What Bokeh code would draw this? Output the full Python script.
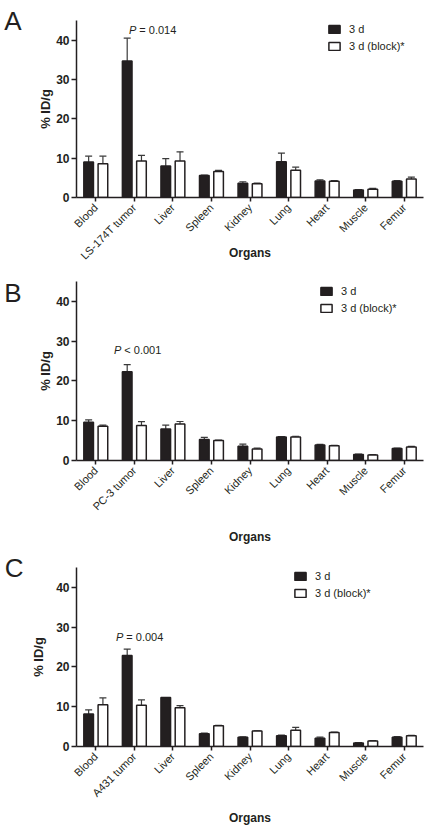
import math
from bokeh.plotting import figure
from bokeh.models import (ColumnDataSource, Range1d, Whisker, TeeHead, FixedTicker,
                          LinearAxis)
from bokeh.transform import dodge
from bokeh.layouts import column
from bokeh.core.properties import value
from bokeh.embed import file_html
from bokeh.resources import INLINE

FONT = "Liberation Sans"
INK = "#231f20"

# ---------------- data ----------------
organs_A = ["Blood", "LS-174T tumor", "Liver", "Spleen", "Kidney", "Lung", "Heart", "Muscle", "Femur"]
A_3d = [9.0, 34.7, 8.0, 5.6, 3.6, 9.1, 4.2, 1.9, 4.15]
A_3d_err = [1.5, 5.8, 1.9, 0.1, 0.4, 2.2, 0.3, 0.1, 0.15]
A_block = [8.6, 9.3, 9.3, 6.6, 3.5, 6.9, 4.15, 2.1, 4.7]
A_block_err = [1.9, 1.4, 2.3, 0.3, 0.15, 0.8, 0.15, 0.2, 0.5]

organs_B = ["Blood", "PC-3 tumor", "Liver", "Spleen", "Kidney", "Lung", "Heart", "Muscle", "Femur"]
B_3d = [9.6, 22.3, 7.9, 5.3, 3.6, 5.9, 3.9, 1.5, 3.0]
B_3d_err = [0.6, 1.8, 1.0, 0.5, 0.5, 0.1, 0.15, 0.1, 0.1]
B_block = [8.6, 8.8, 9.2, 5.0, 2.9, 5.9, 3.7, 1.4, 3.4]
B_block_err = [0.3, 0.95, 0.6, 0.15, 0.2, 0.2, 0.1, 0.1, 0.15]

organs_C = ["Blood", "A431 tumor", "Liver", "Spleen", "Kidney", "Lung", "Heart", "Muscle", "Femur"]
C_3d = [8.15, 22.9, 12.3, 3.2, 2.3, 2.7, 2.1, 0.9, 2.35]
C_3d_err = [1.05, 1.6, 0.0, 0.2, 0.15, 0.15, 0.25, 0.1, 0.15]
C_block = [10.5, 10.4, 9.75, 5.2, 3.9, 4.1, 3.5, 1.4, 2.7]
C_block_err = [1.7, 1.3, 0.55, 0.1, 0.05, 0.7, 0.1, 0.1, 0.1]

y_ticks = [0, 10, 20, 30, 40]
series_names = ["3 d", "3 d (block)*"]
p_labels = ["= 0.014", "< 0.001", "= 0.004"]
letters = ["A", "B", "C"]
x_title = "Organs"
y_title = "% ID/g"


def panel(letter, organs, v3, e3, vb, eb, ptxt, p_y, p_dx, leg_xy,
          height, left, right, top, bottom, xlab_standoff, ylab_standoff,
          letter_at, letter_standoff):
    p = figure(x_range=organs, y_range=Range1d(0, 45), width=430, height=height,
               output_backend="svg", toolbar_location=None,
               min_border_left=left, min_border_right=right,
               min_border_top=top, min_border_bottom=bottom)
    p.outline_line_color = None
    p.xgrid.grid_line_color = None
    p.ygrid.grid_line_color = None
    p.background_fill_color = None
    p.border_fill_color = None

    src = ColumnDataSource(dict(
        organ=organs, v3=v3, vb=vb,
        u3=[a + b for a, b in zip(v3, e3)],
        ub=[a + b for a, b in zip(vb, eb)],
    ))
    off = 0.185
    bw = 0.25
    p.vbar(x=dodge("organ", -off, range=p.x_range), top="v3", width=bw, source=src,
           fill_color=INK, line_color=INK, line_width=1.5,
           legend_label=series_names[0])
    p.vbar(x=dodge("organ", off, range=p.x_range), top="vb", width=bw, source=src,
           fill_color="white", line_color=INK, line_width=1.5,
           legend_label=series_names[1])

    for key_lo, key_hi, o in (("v3", "u3", -off), ("vb", "ub", off)):
        w = Whisker(base=dodge("organ", o, range=p.x_range), lower=key_lo, upper=key_hi,
                    source=src, dimension="height", line_color="#3a3a3a", line_width=1.2,
                    upper_head=TeeHead(size=7, line_color="#3a3a3a", line_width=1.2),
                    lower_head=None)
        p.add_layout(w)

    # P value annotation
    ann = ColumnDataSource(dict(organ=[organs[1]], y=[p_y]))
    p.text(x="organ", y="y", text=value("P"), source=ann, text_font=value(FONT),
           text_font_style="italic", text_font_size="11px", text_color=INK,
           text_align="right", text_baseline="alphabetic", x_offset=p_dx)
    p.text(x="organ", y="y", text=value(ptxt), source=ann, text_font=value(FONT),
           text_font_size="11px", text_color=INK,
           text_align="left", text_baseline="alphabetic", x_offset=p_dx + 3)

    # axes
    for ax in (p.xaxis[0], p.yaxis[0]):
        ax.axis_line_width = 1.5
        ax.axis_line_color = INK
        ax.major_tick_line_width = 1.5
        ax.major_tick_line_color = INK
        ax.major_tick_in = 0
        ax.minor_tick_line_color = None
        ax.major_label_text_font = FONT
        ax.major_label_text_color = INK
        ax.axis_label_text_font = FONT
        ax.axis_label_text_font_style = "bold"
        ax.axis_label_text_color = INK
    p.yaxis.ticker = FixedTicker(ticks=y_ticks)
    p.yaxis.major_tick_out = 5
    p.yaxis.major_label_text_font_style = "bold"
    p.yaxis.major_label_text_font_size = "12px"
    p.yaxis.major_label_standoff = 2
    p.yaxis.axis_label = y_title
    p.yaxis.axis_label_text_font_size = "13px"
    p.yaxis.axis_label_standoff = ylab_standoff
    p.xaxis.major_tick_out = 4
    p.xaxis.major_label_orientation = math.pi / 4
    p.xaxis.major_label_text_font_size = "11px"
    p.xaxis.major_label_standoff = 4
    p.xaxis.axis_label = x_title
    p.xaxis.axis_label_text_font_size = "12px"
    p.xaxis.axis_label_standoff = xlab_standoff

    # panel letter, drawn as the single label of an outer, line-less left axis
    p.extra_y_ranges = {"letter": Range1d(0, 45)}
    lax = LinearAxis(y_range_name="letter", ticker=FixedTicker(ticks=[letter_at]),
                     major_label_overrides={letter_at: letter},
                     axis_line_color=None, major_tick_line_color=None,
                     minor_tick_line_color=None, major_tick_out=0, major_tick_in=0,
                     major_label_standoff=letter_standoff,
                     major_label_text_font=FONT, major_label_text_font_size="26px",
                     major_label_text_color=INK)
    p.add_layout(lax, "left")

    lg = p.legend[0]
    lg.location = leg_xy
    lg.border_line_color = None
    lg.background_fill_alpha = 0
    lg.padding = 0
    lg.margin = 0
    lg.spacing = 5
    lg.glyph_width = 14
    lg.glyph_height = 10
    lg.label_height = 10
    lg.label_standoff = 8
    lg.label_text_font = FONT
    lg.label_text_font_size = "11px"
    lg.label_text_color = INK
    return p


pA = panel(letters[0], organs_A, A_3d, A_3d_err, A_block, A_block_err, p_labels[0], 42.6, 2,
           (251, 144.6), 270, 74, 7, 20, 73, -23, 0, 45, 14)
pB = panel(letters[1], organs_B, B_3d, B_3d_err, B_block, B_block_err, p_labels[1], 27.9, -13,
           (243, 145.8), 280, 76, 1, 11, 90, 10, 0, 42, 14)
pC = panel(letters[2], organs_C, C_3d, C_3d_err, C_block, C_block_err, p_labels[2], 27.5, -11,
           (217, 147.5), 278, 73, 4, 17, 82, 5, 7, 45, 5)

layout = column(pA, pB, pC, spacing=0)
open("out.html", "w").write(file_html(layout, INLINE))
